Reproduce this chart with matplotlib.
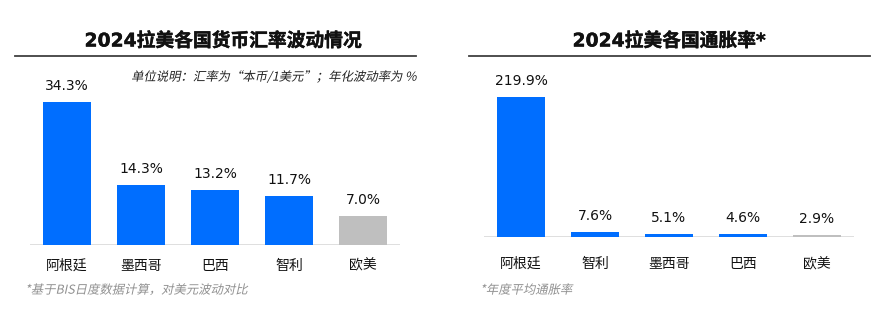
import matplotlib
matplotlib.use('Agg')
import matplotlib.pyplot as plt
import matplotlib.transforms as mtransforms
import matplotlib.patheffects as pe
from matplotlib.lines import Line2D
from matplotlib.patches import PathPatch
from matplotlib.textpath import TextPath
from matplotlib.font_manager import FontProperties

# DejaVu first gives the wide latin digits, CJK falls through to Noto
plt.rcParams['font.family'] = ['DejaVu Sans', 'Noto Sans CJK SC']

# exchange-rate volatility, 2024
fx_countries = ['阿根廷', '墨西哥', '巴西', '智利', '欧美']
fx_values = [34.3, 14.3, 13.2, 11.7, 7.0]

# average inflation, 2024
cpi_countries = ['阿根廷', '智利', '墨西哥', '巴西', '欧美']
cpi_values = [219.9, 7.6, 5.1, 4.6, 2.9]

BLUE = '#006EFF'
GREY_BAR = '#BFBFBF'
W, H = 883, 328

fig = plt.figure(figsize=(W / 100, H / 100), dpi=100)


def px_axes(x0, y_base, x1, y_top):
    # axes placed in pixel coordinates (y measured from the top)
    return fig.add_axes([x0 / W, 1 - y_base / H, (x1 - x0) / W, (y_base - y_top) / H])


def slanted_text(x, y, s, size_pt, color, ha='left'):
    # CJK fonts have no italic face, so shear the glyph outlines instead
    px = size_pt * 100 / 72
    fp = FontProperties(family=['Noto Sans CJK SC', 'DejaVu Sans'])
    path = TextPath((0, 0), s, size=px, prop=fp)
    width = path.get_extents().x1
    x0 = x - width if ha == 'right' else x
    base = (H - y) - 0.38 * px
    tr = mtransforms.Affine2D().skew_deg(12, 0).translate(x0, base)
    fig.add_artist(PathPatch(path, facecolor=color, edgecolor='none', lw=0,
                             transform=tr))


def draw_panel(ax, names, values, ytop, label_pad):
    colors = [GREY_BAR if n == '欧美' else BLUE for n in names]
    xs = range(len(names))
    ax.bar(xs, values, width=0.65, color=colors)
    ax.set_xlim(-0.5, len(names) - 0.5)
    ax.set_ylim(0, ytop)
    ax.axis('off')
    ax.axhline(0, color='#D9D9D9', lw=1.2, zorder=0)
    for x, v in zip(xs, values):
        ax.annotate(f'{v:.1f}%', (x, v), xytext=(0, 11.5), textcoords='offset points',
                    ha='center', va='center', fontsize=10, color='#111111')
    trans = mtransforms.blended_transform_factory(ax.transData, ax.transAxes)
    for x, n in zip(xs, names):
        ax.annotate(n, (x, 0), xycoords=trans, xytext=(0, -label_pad),
                    textcoords='offset points', ha='center', va='center',
                    fontsize=10, color='#111111')


ax1 = px_axes(30, 245, 400, 60)
draw_panel(ax1, fx_countries, fx_values, 185 / 4.17, 15)

ax2 = px_axes(484, 237, 854, 60)
draw_panel(ax2, cpi_countries, cpi_values, 177 / 0.637, 19.5)

# titles and rules
heavy = [pe.withStroke(linewidth=0.3, foreground='#111111')]
fig.text(223 / W, 1 - 41 / H, '2024拉美各国货币汇率波动情况', ha='center', va='center',
         fontsize=13.5, fontweight='bold', color='#111111', path_effects=heavy)
fig.text(669 / W, 1 - 41 / H, '2024拉美各国通胀率*', ha='center', va='center',
         fontsize=13.5, fontweight='bold', color='#111111', path_effects=heavy)
fig.add_artist(Line2D([15 / W, 416 / W], [1 - 56 / H] * 2, color='#404040', lw=1.3))
fig.add_artist(Line2D([469 / W, 870 / W], [1 - 56 / H] * 2, color='#404040', lw=1.3))

slanted_text(416, 76, '单位说明：汇率为“本币/1美元”；年化波动率为 %', 8.9,
             '#222222', ha='right')

# footnotes
slanted_text(25, 289, '*基于BIS日度数据计算，对美元波动对比', 8.9, '#909090')
slanted_text(480, 289, '*年度平均通胀率', 8.9, '#909090')

fig.savefig('out.png', dpi=100)
